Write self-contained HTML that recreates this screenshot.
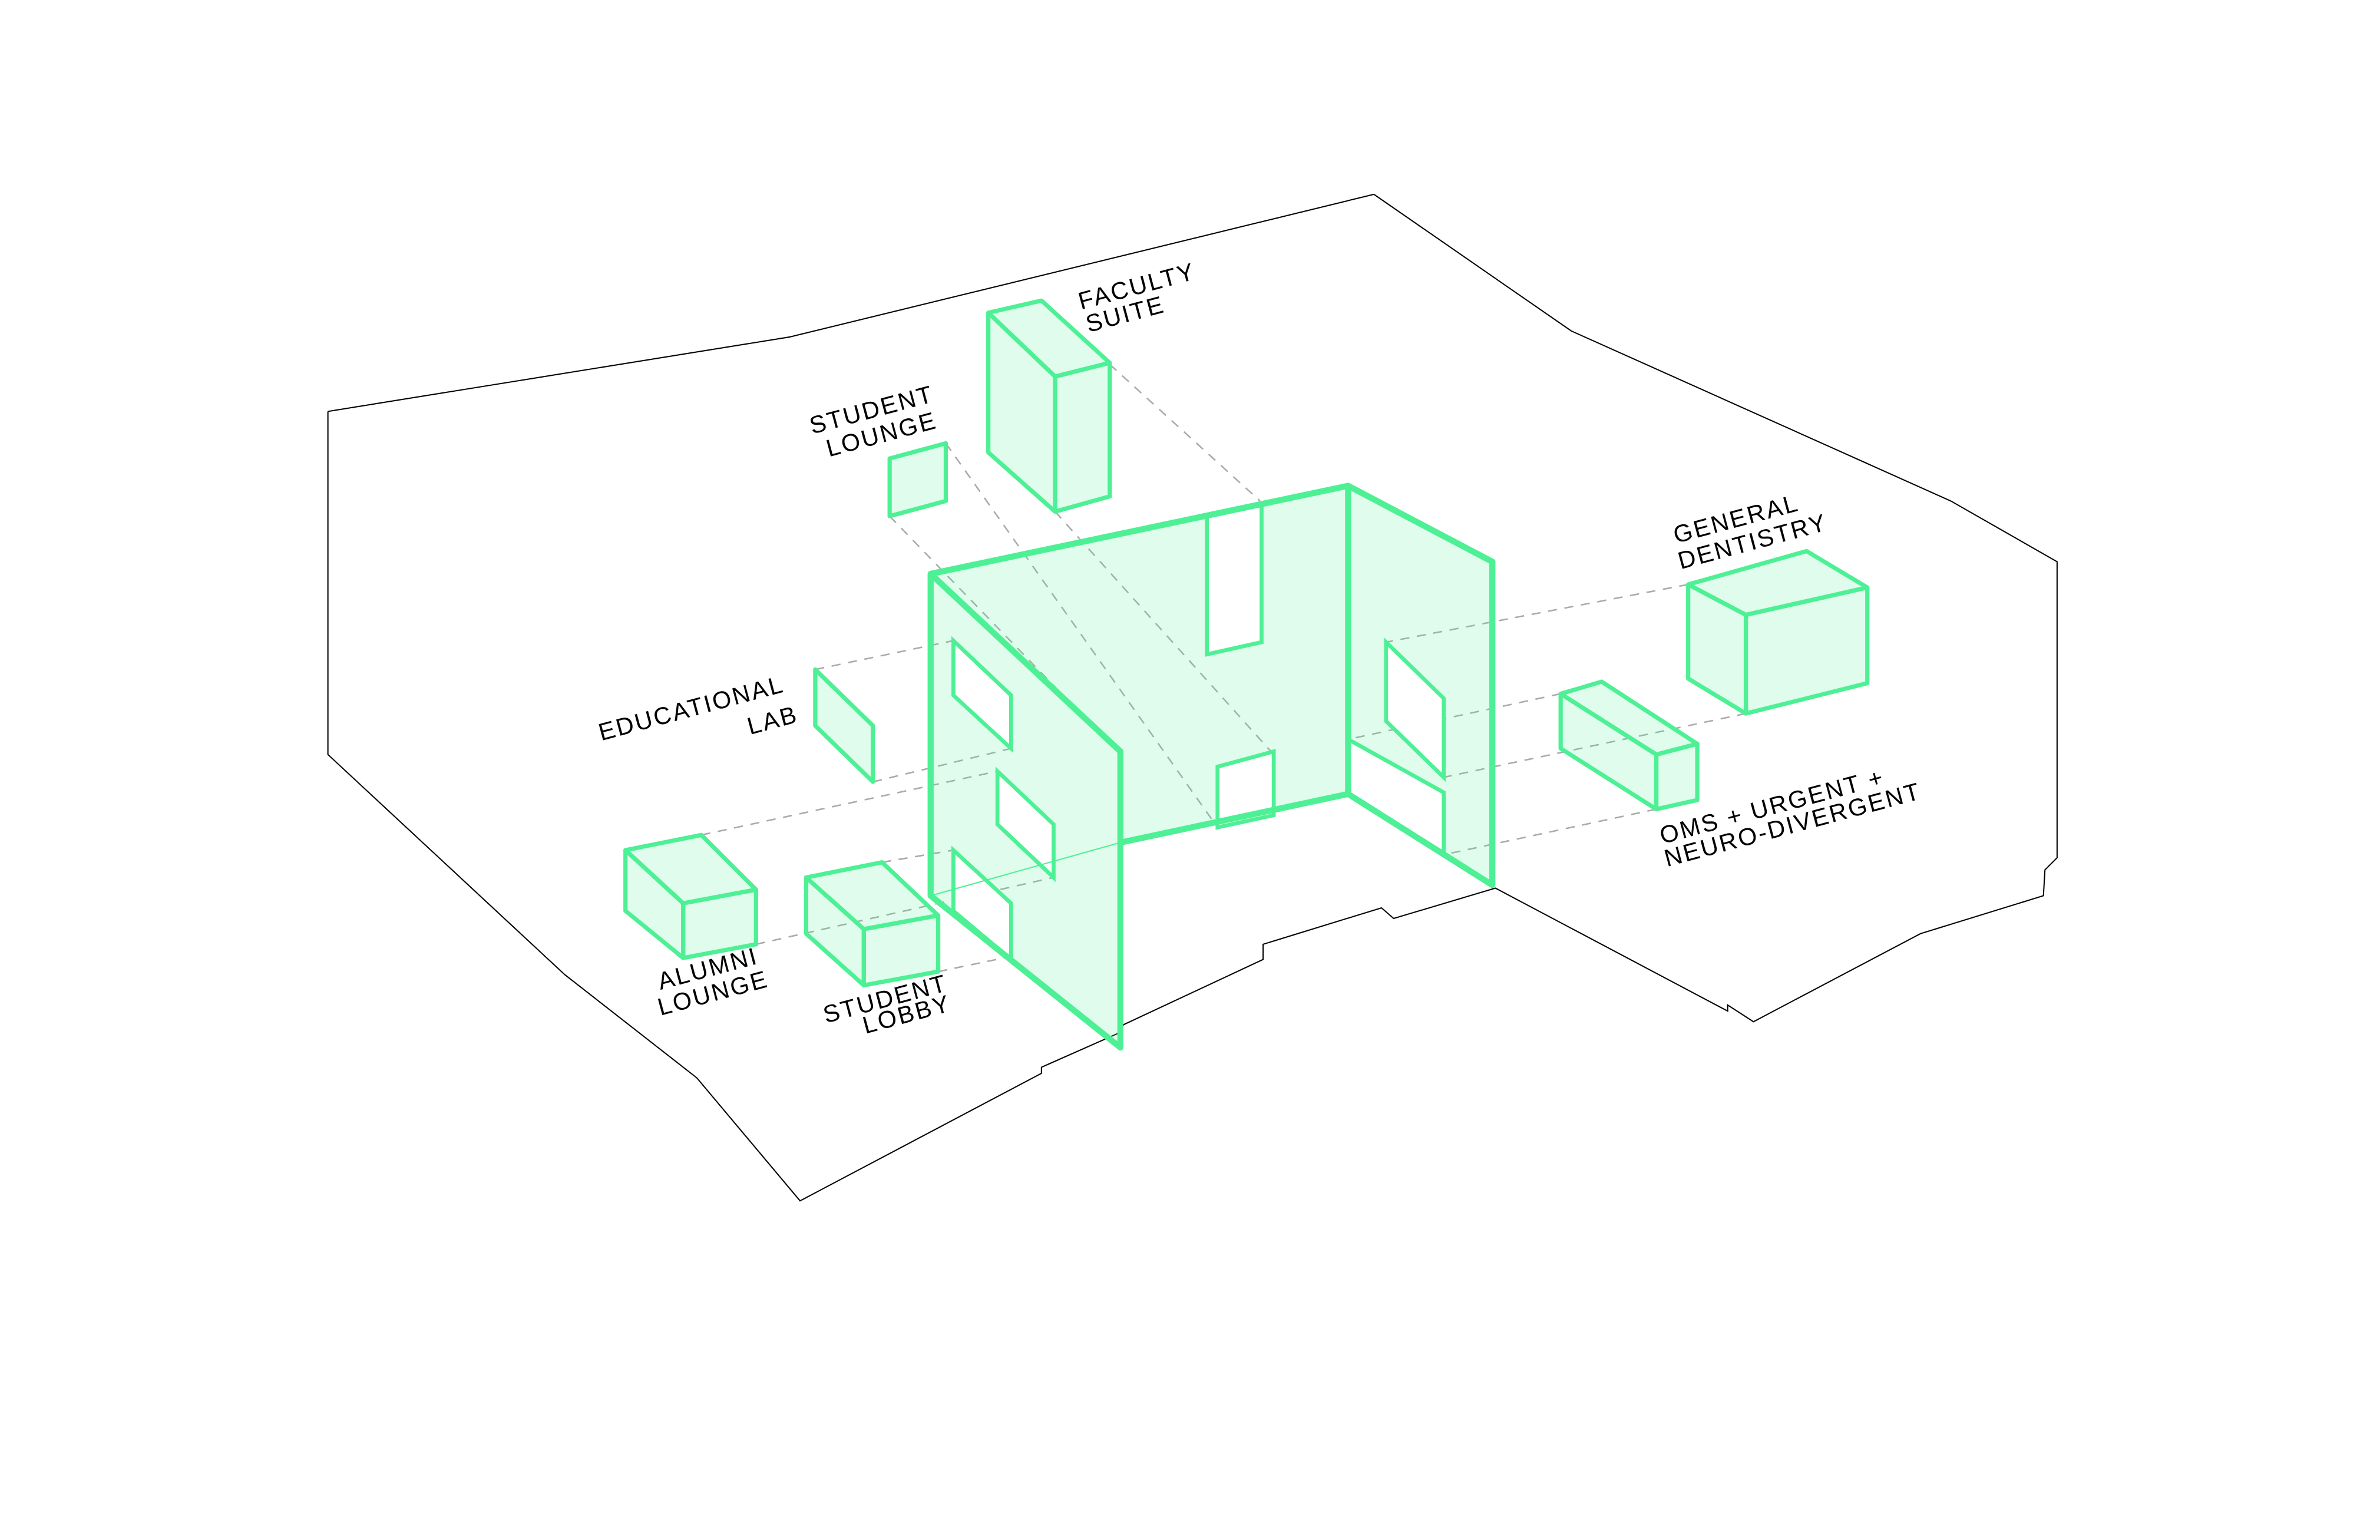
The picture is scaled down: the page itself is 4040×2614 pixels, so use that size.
<!DOCTYPE html>
<html><head><meta charset="utf-8"><style>
html,body{margin:0;padding:0;background:#fff;}
svg{display:block;}
text{font-family:"Liberation Sans",sans-serif;font-size:16px;fill:#000;letter-spacing:1.2px;}
</style></head><body>
<svg width="4040" height="2614" viewBox="0 0 1567.7 1014.4" preserveAspectRatio="none" xmlns="http://www.w3.org/2000/svg">
<polyline fill="none" stroke="#000" stroke-width="0.8" points="216,271 520,222 905,128 1035,218 1285,330 1355,370 1355,565 1347,573 1346,590 1265,615 1155,673 1138,662 1138,666 985,585 918,605 910,598 832,622 832,632 740,675 738,680 686,703 686,707 527,791 459,710 372,642 216,497 216,271"/>
<g stroke="#aaa" stroke-width="1" stroke-dasharray="6,5" fill="none">
<line x1="731" y1="240" x2="830" y2="330"/>
<line x1="623" y1="292" x2="802" y2="545"/>
<line x1="586" y1="340" x2="738" y2="497"/>
<line x1="695" y1="337" x2="839" y2="497"/>
<line x1="537" y1="441" x2="628" y2="422"/>
<line x1="575" y1="515" x2="666" y2="493"/>
<line x1="462" y1="550" x2="657" y2="508"/>
<line x1="498" y1="622" x2="694" y2="578"/>
<line x1="581" y1="568" x2="628" y2="560"/>
<line x1="618" y1="640" x2="666" y2="630"/>
<line x1="1112" y1="385" x2="913" y2="423"/>
<line x1="1028" y1="457" x2="888" y2="487"/>
<line x1="1150" y1="470" x2="951" y2="512"/>
<line x1="1091" y1="533" x2="951" y2="563"/>
</g>
<g fill="#4ef095" fill-opacity="0.18" stroke="none">
<polygon points="613,378 888,320 888,523 738,555 738,495"/>
<polygon points="888,320 983,370 983,583 888,523"/>
<polygon points="613,378 738,495 738,690 613,590"/>
</g>
<g fill="#fff" stroke="#4ef095" stroke-width="2.6">
<polygon points="795,340 831,332 831,423 795,431"/>
<polygon points="802,505 839,495 839,537 802,545"/>
<polygon points="913,423 951,460 951,512 913,475"/>
<polygon points="888,487 951,522 951,563 888,523"/>
<polygon points="628,422 666,458 666,493 628,458"/>
<polygon points="657,508 694,543 694,578 657,543"/>
<polygon points="628,560 666,595 666,632 628,600"/>
</g>
<g fill="none" stroke="#4ef095" stroke-width="4" stroke-linecap="round" stroke-linejoin="round">
<polyline points="738,555 888,523 983,583 983,370 888,320 613,378 613,590 738,690 738,495 613,378"/>
<line x1="888" y1="320" x2="888" y2="523"/>
</g>
<line x1="613" y1="590" x2="738" y2="555" stroke="#4ef095" stroke-width="0.8"/>
<g fill="#4ef095" fill-opacity="0.18" stroke="#4ef095" stroke-width="2.8" stroke-linejoin="round">
<polygon points="651,206 686,198 731,239 695,248"/>
<polygon points="651,206 695,248 695,337 651,298"/>
<polygon points="695,248 731,239 731,327 695,337"/>
<polygon points="586,302 623,292 623,330 586,340"/>
<polygon points="537,441 575,478 575,515 537,478"/>
<polygon points="1112,385 1190,363 1230,387 1150,405"/>
<polygon points="1112,385 1150,405 1150,470 1112,447"/>
<polygon points="1150,405 1230,387 1230,450 1150,470"/>
<polygon points="1028,457 1055,449 1118,490 1091,497"/>
<polygon points="1028,457 1091,497 1091,533 1028,493"/>
<polygon points="1091,497 1118,490 1118,527 1091,533"/>
<polygon points="412,560 462,550 498,586 450,595"/>
<polygon points="412,560 450,595 450,631 412,600"/>
<polygon points="450,595 498,586 498,622 450,631"/>
<polygon points="531,578 581,568 618,603 569,612"/>
<polygon points="531,578 569,612 569,649 531,615"/>
<polygon points="569,612 618,603 618,640 569,649"/>
</g>
<g>
<text transform="translate(712,204) rotate(-15)">FACULTY</text>
<text transform="translate(717,219) rotate(-15)">SUITE</text>
<text transform="translate(535,286) rotate(-15)">STUDENT</text>
<text transform="translate(546,301) rotate(-15)">LOUNGE</text>
<text transform="translate(396,488) rotate(-15)">EDUCATIONAL</text>
<text transform="translate(494,484) rotate(-15)">LAB</text>
<text transform="translate(1104,358) rotate(-15)">GENERAL</text>
<text transform="translate(1107,375) rotate(-15)">DENTISTRY</text>
<text transform="translate(1095,556) rotate(-15)">OMS + URGENT +</text>
<text transform="translate(1098,571) rotate(-15)">NEURO-DIVERGENT</text>
<text transform="translate(435,652) rotate(-15)">ALUMNI</text>
<text transform="translate(435,669) rotate(-15)">LOUNGE</text>
<text transform="translate(544,674) rotate(-15)">STUDENT</text>
<text transform="translate(570,681) rotate(-15)">LOBBY</text>
</g>
</svg>
</body></html>
